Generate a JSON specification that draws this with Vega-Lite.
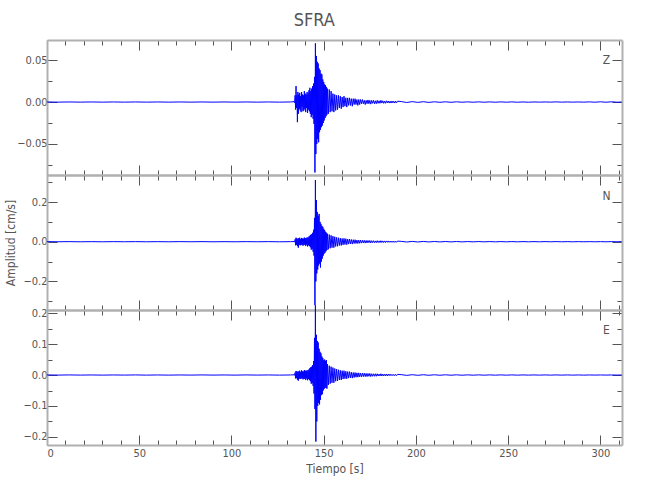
{
"$schema":"https://vega.github.io/schema/vega-lite/v6.json",
"padding":{"left":4,"top":11,"right":5,"bottom":5},
"title":{"text":"SFRA","font":"DejaVu Sans Condensed","fontSize":18,"fontWeight":"normal","color":"#555","offset":10,"anchor":"middle"},
"config":{"view":{"stroke":null},"axis":{"grid":false,"domainColor":"#b0b0b0","domainWidth":2,"tickColor":"#555","tickWidth":1,"labelColor":"#555","labelFont":"DejaVu Sans Condensed","labelFontSize":11,"titleFont":"DejaVu Sans Condensed","titleFontSize":12,"titleFontWeight":"normal","titleColor":"#555"}},
"spacing":0,
"bounds":"flush",
"data":{"values":[
{"t":0,"z":0.0001,"n":0.0004,"e":0.0003},{"t":6,"z":-0.0001,"n":-0.0003,"e":-0.0002},{"t":12,"z":0.0001,"n":0.0004,"e":0.0003},{"t":18,"z":-0.0001,"n":-0.0004,"e":-0.0002},{"t":24,"z":0.0001,"n":0.0003,"e":0.0002},{"t":30,"z":-0.0001,"n":-0.0004,"e":-0.0003},{"t":36,"z":0.0001,"n":0.0004,"e":0.0002},{"t":42,"z":-0.0001,"n":-0.0003,"e":-0.0002},{"t":48,"z":0.0001,"n":0.0004,"e":0.0003},{"t":54,"z":-0.0001,"n":-0.0004,"e":-0.0003},{"t":60,"z":0.0001,"n":0.0003,"e":0.0002},{"t":66,"z":-0.0001,"n":-0.0004,"e":-0.0003},{"t":72,"z":0.0001,"n":0.0004,"e":0.0002},{"t":78,"z":-0.0001,"n":-0.0003,"e":-0.0002},{"t":84,"z":0.0001,"n":0.0004,"e":0.0003},{"t":90,"z":-0.0001,"n":-0.0004,"e":-0.0002},{"t":96,"z":0.0001,"n":0.0003,"e":0.0002},{"t":102,"z":-0.0001,"n":-0.0004,"e":-0.0003},{"t":108,"z":0.0001,"n":0.0004,"e":0.0003},{"t":114,"z":-0.0001,"n":-0.0003,"e":-0.0002},{"t":120,"z":0.0001,"n":0.0004,"e":0.0002},{"t":126,"z":-0.0001,"n":-0.0004,"e":-0.0003},{"t":132,"z":0.0001,"n":0.0003,"e":0.0002},
{"t":134,"z":0.0005,"n":0.001,"e":0.0008},{"t":134.25,"z":-0.0008,"n":-0.002,"e":-0.001},{"t":134.5,"z":0.008,"n":0.012,"e":0.008},{"t":134.75,"z":-0.009,"n":-0.018,"e":-0.011},
{"t":135,"z":0.019,"n":0.02,"e":0.013},{"t":135.25,"z":-0.007,"n":-0.015,"e":-0.01},{"t":135.5,"z":0.008,"n":0.017,"e":0.012},{"t":135.75,"z":-0.024,"n":-0.022,"e":-0.015},
{"t":136,"z":0.012,"n":0.014,"e":0.01},{"t":136.25,"z":-0.014,"n":-0.03,"e":-0.018},{"t":136.5,"z":0.009,"n":0.018,"e":0.012},{"t":136.75,"z":-0.008,"n":-0.016,"e":-0.011},
{"t":137,"z":0.011,"n":0.02,"e":0.014},{"t":137.25,"z":-0.01,"n":-0.018,"e":-0.013},{"t":137.5,"z":0.007,"n":0.013,"e":0.01},{"t":137.75,"z":-0.012,"n":-0.017,"e":-0.012},
{"t":138,"z":0.012,"n":0.019,"e":0.015},{"t":138.25,"z":-0.006,"n":-0.014,"e":-0.01},{"t":138.5,"z":0.009,"n":0.016,"e":0.012},{"t":138.75,"z":-0.011,"n":-0.02,"e":-0.014},
{"t":139,"z":0.008,"n":0.015,"e":0.011},{"t":139.25,"z":-0.01,"n":-0.017,"e":-0.013},{"t":139.5,"z":0.013,"n":0.021,"e":0.016},{"t":139.75,"z":-0.008,"n":-0.015,"e":-0.012},
{"t":140,"z":0.01,"n":0.018,"e":0.014},{"t":140.25,"z":-0.012,"n":-0.022,"e":-0.016},{"t":140.5,"z":0.009,"n":0.017,"e":0.013},{"t":140.75,"z":-0.007,"n":-0.014,"e":-0.011},
{"t":141,"z":0.012,"n":0.022,"e":0.016},{"t":141.25,"z":-0.013,"n":-0.024,"e":-0.017},{"t":141.5,"z":0.01,"n":0.019,"e":0.014},{"t":141.75,"z":-0.009,"n":-0.018,"e":-0.013},
{"t":142,"z":0.014,"n":0.026,"e":0.018},{"t":142.25,"z":-0.011,"n":-0.022,"e":-0.016},{"t":142.5,"z":0.017,"n":0.03,"e":0.022},{"t":142.75,"z":-0.014,"n":-0.028,"e":-0.02},
{"t":143,"z":0.013,"n":0.035,"e":0.025},{"t":143.25,"z":-0.018,"n":-0.04,"e":-0.028},{"t":143.5,"z":0.016,"n":0.038,"e":0.027},{"t":143.75,"z":-0.015,"n":-0.036,"e":-0.026},
{"t":144,"z":0.019,"n":0.045,"e":0.032},{"t":144.25,"z":-0.02,"n":-0.05,"e":-0.035},{"t":144.5,"z":0.022,"n":0.06,"e":0.045},{"t":144.75,"z":-0.026,"n":-0.07,"e":-0.06},
{"t":145,"z":0.03,"n":0.12,"e":0.12},{"t":145.25,"z":-0.084,"n":-0.32,"e":-0.11},{"t":145.5,"z":0.07,"n":0.31,"e":0.225},{"t":145.75,"z":-0.062,"n":-0.2,"e":-0.215},
{"t":146,"z":0.055,"n":0.21,"e":0.13},{"t":146.25,"z":-0.05,"n":-0.16,"e":-0.15},{"t":146.5,"z":0.048,"n":0.15,"e":0.11},{"t":146.75,"z":-0.044,"n":-0.14,"e":-0.1},
{"t":147,"z":0.046,"n":0.13,"e":0.105},{"t":147.25,"z":-0.048,"n":-0.12,"e":-0.09},{"t":147.5,"z":0.04,"n":0.14,"e":0.085},{"t":147.75,"z":-0.036,"n":-0.11,"e":-0.095},
{"t":148,"z":0.038,"n":0.1,"e":0.075},{"t":148.25,"z":-0.033,"n":-0.13,"e":-0.08},{"t":148.5,"z":0.034,"n":0.09,"e":0.07},{"t":148.75,"z":-0.03,"n":-0.1,"e":-0.065},
{"t":149,"z":0.033,"n":0.08,"e":0.06},{"t":149.25,"z":-0.028,"n":-0.085,"e":-0.062},{"t":149.5,"z":0.027,"n":0.075,"e":0.055},{"t":149.75,"z":-0.025,"n":-0.07,"e":-0.05},
{"t":150,"z":0.024,"n":0.065,"e":0.048},{"t":150.25,"z":-0.022,"n":-0.06,"e":-0.045},{"t":150.5,"z":0.021,"n":0.058,"e":0.05},{"t":150.75,"z":-0.019,"n":-0.055,"e":-0.042},
{"t":151,"z":0.02,"n":0.05,"e":0.046},{"t":151.25,"z":-0.017,"n":-0.048,"e":-0.04},{"t":151.5,"z":0.018,"n":0.045,"e":0.048},{"t":151.75,"z":-0.015,"n":-0.042,"e":-0.044},
{"t":152,"z":0.016,"n":0.04,"e":0.035},
{"t":152.5,"z":-0.014,"n":-0.038,"e":-0.032},{"t":153,"z":0.015,"n":0.036,"e":0.03},{"t":153.5,"z":-0.012,"n":-0.033,"e":-0.028},{"t":154,"z":0.013,"n":0.032,"e":0.027},
{"t":154.5,"z":-0.011,"n":-0.03,"e":-0.025},{"t":155,"z":0.01,"n":0.028,"e":0.024},{"t":155.5,"z":-0.012,"n":-0.03,"e":-0.025},{"t":156,"z":0.009,"n":0.025,"e":0.021},
{"t":156.5,"z":-0.01,"n":-0.024,"e":-0.02},{"t":157,"z":0.008,"n":0.022,"e":0.019},{"t":157.5,"z":-0.009,"n":-0.023,"e":-0.019},{"t":158,"z":0.008,"n":0.02,"e":0.017},
{"t":158.5,"z":-0.007,"n":-0.019,"e":-0.016},{"t":159,"z":0.007,"n":0.018,"e":0.015},{"t":159.5,"z":-0.008,"n":-0.019,"e":-0.016},{"t":160,"z":0.006,"n":0.016,"e":0.014},
{"t":160.5,"z":-0.006,"n":-0.016,"e":-0.013},{"t":161,"z":0.007,"n":0.017,"e":0.014},{"t":161.5,"z":-0.005,"n":-0.014,"e":-0.012},{"t":162,"z":0.005,"n":0.015,"e":0.012},
{"t":162.5,"z":-0.006,"n":-0.015,"e":-0.012},{"t":163,"z":0.005,"n":0.013,"e":0.011},{"t":163.5,"z":-0.004,"n":-0.012,"e":-0.01},{"t":164,"z":0.005,"n":0.013,"e":0.011},
{"t":164.5,"z":-0.004,"n":-0.011,"e":-0.009},{"t":165,"z":0.004,"n":0.011,"e":0.009},{"t":165.5,"z":-0.005,"n":-0.012,"e":-0.01},{"t":166,"z":0.004,"n":0.01,"e":0.008},
{"t":166.5,"z":-0.003,"n":-0.009,"e":-0.008},{"t":167,"z":0.004,"n":0.01,"e":0.008},{"t":167.5,"z":-0.003,"n":-0.009,"e":-0.007},{"t":168,"z":0.003,"n":0.008,"e":0.007},
{"t":168.5,"z":-0.004,"n":-0.009,"e":-0.007},{"t":169,"z":0.003,"n":0.008,"e":0.007},{"t":169.5,"z":-0.003,"n":-0.008,"e":-0.006},{"t":170,"z":0.003,"n":0.008,"e":0.006},
{"t":170.5,"z":-0.002,"n":-0.007,"e":-0.006},{"t":171,"z":0.003,"n":0.007,"e":0.006},{"t":171.5,"z":-0.002,"n":-0.006,"e":-0.005},{"t":172,"z":0.002,"n":0.007,"e":0.006},
{"t":172.5,"z":-0.003,"n":-0.007,"e":-0.005},{"t":173,"z":0.002,"n":0.006,"e":0.005},{"t":173.5,"z":-0.002,"n":-0.006,"e":-0.005},{"t":174,"z":0.0025,"n":0.006,"e":0.005},
{"t":174.5,"z":-0.002,"n":-0.005,"e":-0.004},{"t":175,"z":0.002,"n":0.006,"e":0.005},{"t":175.5,"z":-0.0025,"n":-0.006,"e":-0.005},{"t":176,"z":0.002,"n":0.005,"e":0.004},
{"t":176.5,"z":-0.0015,"n":-0.005,"e":-0.004},{"t":177,"z":0.002,"n":0.005,"e":0.004},{"t":177.5,"z":-0.002,"n":-0.005,"e":-0.004},{"t":178,"z":0.0015,"n":0.004,"e":0.004},
{"t":178.5,"z":-0.002,"n":-0.005,"e":-0.004},{"t":179,"z":0.002,"n":0.005,"e":0.004},{"t":179.5,"z":-0.0015,"n":-0.004,"e":-0.003},{"t":180,"z":0.0015,"n":0.004,"e":0.003},
{"t":180.5,"z":-0.0015,"n":-0.004,"e":-0.003},{"t":181,"z":0.002,"n":0.005,"e":0.004},{"t":181.5,"z":-0.0012,"n":-0.004,"e":-0.003},{"t":182,"z":0.0015,"n":0.004,"e":0.003},
{"t":182.5,"z":-0.0015,"n":-0.004,"e":-0.003},{"t":183,"z":0.0012,"n":0.004,"e":0.003},{"t":183.5,"z":-0.0015,"n":-0.004,"e":-0.003},{"t":184,"z":0.0015,"n":0.004,"e":0.003},
{"t":184.5,"z":-0.001,"n":-0.003,"e":-0.003},{"t":185,"z":0.0012,"n":0.004,"e":0.003},{"t":185.5,"z":-0.0012,"n":-0.003,"e":-0.002},{"t":186,"z":0.001,"n":0.003,"e":0.003},
{"t":186.5,"z":-0.0012,"n":-0.003,"e":-0.002},{"t":187,"z":0.0012,"n":0.003,"e":0.002},{"t":187.5,"z":-0.001,"n":-0.003,"e":-0.002},{"t":188,"z":0.001,"n":0.003,"e":0.002},
{"t":188.5,"z":-0.0012,"n":-0.003,"e":-0.002},{"t":189,"z":0.001,"n":0.003,"e":0.002},{"t":189.5,"z":-0.001,"n":-0.003,"e":-0.002},{"t":190,"z":0.001,"n":0.003,"e":0.002},
{"t":192,"z":0.0006,"n":0.0018,"e":0.0012},{"t":195,"z":-0.0005,"n":-0.0016,"e":-0.0011},{"t":198,"z":0.0005,"n":0.0015,"e":0.001},{"t":201,"z":-0.0004,"n":-0.0014,"e":-0.0009},
{"t":204,"z":0.0004,"n":0.0013,"e":0.0009},{"t":207,"z":-0.0004,"n":-0.0012,"e":-0.0008},{"t":210,"z":0.0003,"n":0.0011,"e":0.0008},{"t":213,"z":-0.0003,"n":-0.0011,"e":-0.0007},
{"t":216,"z":0.0003,"n":0.001,"e":0.0007},{"t":219,"z":-0.0003,"n":-0.001,"e":-0.0006},{"t":222,"z":0.0003,"n":0.0009,"e":0.0006},{"t":225,"z":-0.0002,"n":-0.0009,"e":-0.0006},
{"t":228,"z":0.0002,"n":0.0008,"e":0.0005},{"t":231,"z":-0.0002,"n":-0.0008,"e":-0.0005},{"t":234,"z":0.0002,"n":0.0008,"e":0.0005},{"t":237,"z":-0.0002,"n":-0.0007,"e":-0.0005},
{"t":240,"z":0.0002,"n":0.0007,"e":0.0004},{"t":243,"z":-0.0002,"n":-0.0007,"e":-0.0004},{"t":246,"z":0.0002,"n":0.0006,"e":0.0004},{"t":249,"z":-0.0002,"n":-0.0006,"e":-0.0004},
{"t":252,"z":0.0002,"n":0.0006,"e":0.0004},{"t":255,"z":-0.0002,"n":-0.0006,"e":-0.0004},{"t":258,"z":0.0001,"n":0.0005,"e":0.0003},{"t":261,"z":-0.0002,"n":-0.0005,"e":-0.0003},
{"t":264,"z":0.0001,"n":0.0005,"e":0.0003},{"t":267,"z":-0.0001,"n":-0.0005,"e":-0.0003},{"t":270,"z":0.0001,"n":0.0005,"e":0.0003},{"t":273,"z":-0.0001,"n":-0.0004,"e":-0.0003},
{"t":276,"z":0.0002,"n":0.0005,"e":0.0003},{"t":279,"z":-0.0001,"n":-0.0004,"e":-0.0003},{"t":282,"z":0.0001,"n":0.0004,"e":0.0003},{"t":285,"z":-0.0001,"n":-0.0004,"e":-0.0003},
{"t":288,"z":0.0001,"n":0.0004,"e":0.0002},{"t":291,"z":-0.0001,"n":-0.0004,"e":-0.0003},{"t":294,"z":0.0002,"n":0.0004,"e":0.0002},{"t":297,"z":-0.0002,"n":-0.0004,"e":-0.0002},
{"t":300,"z":0.0003,"n":0.0004,"e":0.0002},{"t":303,"z":-0.0002,"n":-0.0004,"e":-0.0002},{"t":306,"z":0.0003,"n":0.0004,"e":0.0002},{"t":309,"z":-0.0002,"n":-0.0004,"e":-0.0002},
{"t":311.5,"z":0.0001,"n":0.0003,"e":0.0002}
]},
"vconcat":[
{"width":575,"height":135,
 "layer":[
  {"mark":{"type":"line","color":"#0000ff","strokeWidth":1},
   "encoding":{
    "x":{"field":"t","type":"quantitative","scale":{"domain":[0,311.7],"nice":false,"zero":false},
      "axis":{"orient":"bottom","title":null,"labels":false,"values":[0,10,20,30,40,50,60,70,80,90,100,110,120,130,140,150,160,170,180,190,200,210,220,230,240,250,260,270,280,290,300,310],"tickSize":{"condition":{"test":"datum.value % 50 === 0","value":-10},"value":-5}}},
    "y":{"field":"z","type":"quantitative","scale":{"domain":[-0.087,0.074],"nice":false,"zero":false},
      "axis":{"orient":"left","title":null,"format":".2f","labelPadding":10,"values":[-0.075,-0.05,-0.025,0,0.025,0.05],"labelExpr":"abs(round(datum.value*1000)) % 50 === 0 ? datum.label : ''","tickSize":{"condition":{"test":"abs(round(datum.value*1000)) % 50 === 0","value":-10},"value":-5}}}
   }},
  {"data":{"values":[{"t":303.3,"z":0.05,"lab":"Z"}]},
   "mark":{"type":"text","color":"#555","fontSize":12,"font":"DejaVu Sans Condensed"},
   "encoding":{
    "x":{"field":"t","type":"quantitative","scale":{"domain":[0,311.7],"nice":false,"zero":false},
      "axis":{"orient":"top","title":null,"labels":false,"values":[0,10,20,30,40,50,60,70,80,90,100,110,120,130,140,150,160,170,180,190,200,210,220,230,240,250,260,270,280,290,300,310],"tickSize":{"condition":{"test":"datum.value % 50 === 0","value":-10},"value":-5}}},
    "y":{"field":"z","type":"quantitative","scale":{"domain":[-0.087,0.074],"nice":false,"zero":false},
      "axis":{"orient":"right","title":null,"labels":false,"values":[-0.075,-0.05,-0.025,0,0.025,0.05],"tickSize":{"condition":{"test":"abs(round(datum.value*1000)) % 50 === 0","value":-10},"value":-5}}},
    "text":{"field":"lab"}
   }}
 ],
 "resolve":{"axis":{"x":"independent","y":"independent"}}
},
{"width":575,"height":135,
 "layer":[
  {"mark":{"type":"line","color":"#0000ff","strokeWidth":1},
   "encoding":{
    "x":{"field":"t","type":"quantitative","scale":{"domain":[0,311.7],"nice":false,"zero":false},
      "axis":{"orient":"bottom","title":null,"labels":false,"values":[0,10,20,30,40,50,60,70,80,90,100,110,120,130,140,150,160,170,180,190,200,210,220,230,240,250,260,270,280,290,300,310],"tickSize":{"condition":{"test":"datum.value % 50 === 0","value":-10},"value":-5}}},
    "y":{"field":"n","type":"quantitative","scale":{"domain":[-0.344,0.336],"nice":false,"zero":false},
      "axis":{"orient":"left","title":"Amplitud [cm/s]","titlePadding":5,"format":".1f","labelPadding":10,"values":[-0.3,-0.2,-0.1,0,0.1,0.2,0.3],"labelExpr":"abs(round(datum.value*10)) % 2 === 0 ? datum.label : ''","tickSize":{"condition":{"test":"abs(round(datum.value*10)) % 2 === 0","value":-10},"value":-5}}}
   }},
  {"data":{"values":[{"t":303.3,"n":0.23,"lab":"N"}]},
   "mark":{"type":"text","color":"#555","fontSize":12,"font":"DejaVu Sans Condensed"},
   "encoding":{
    "x":{"field":"t","type":"quantitative","scale":{"domain":[0,311.7],"nice":false,"zero":false},
      "axis":{"orient":"top","title":null,"labels":false,"values":[0,10,20,30,40,50,60,70,80,90,100,110,120,130,140,150,160,170,180,190,200,210,220,230,240,250,260,270,280,290,300,310],"tickSize":{"condition":{"test":"datum.value % 50 === 0","value":-10},"value":-5}}},
    "y":{"field":"n","type":"quantitative","scale":{"domain":[-0.344,0.336],"nice":false,"zero":false},
      "axis":{"orient":"right","title":null,"labels":false,"values":[-0.3,-0.2,-0.1,0,0.1,0.2,0.3],"tickSize":{"condition":{"test":"abs(round(datum.value*10)) % 2 === 0","value":-10},"value":-5}}},
    "text":{"field":"lab"}
   }}
 ],
 "resolve":{"axis":{"x":"independent","y":"independent"}}
},
{"width":575,"height":135,
 "layer":[
  {"mark":{"type":"line","color":"#0000ff","strokeWidth":1},
   "encoding":{
    "x":{"field":"t","type":"quantitative","scale":{"domain":[0,311.7],"nice":false,"zero":false},
      "axis":{"orient":"bottom","title":"Tiempo [s]","titlePadding":5,"labelPadding":12,"values":[0,10,20,30,40,50,60,70,80,90,100,110,120,130,140,150,160,170,180,190,200,210,220,230,240,250,260,270,280,290,300,310],"labelExpr":"datum.value % 50 === 0 ? datum.label : ''","tickSize":{"condition":{"test":"datum.value % 50 === 0","value":-10},"value":-5}}},
    "y":{"field":"e","type":"quantitative","scale":{"domain":[-0.226,0.21],"nice":false,"zero":false},
      "axis":{"orient":"left","title":null,"format":".1f","labelPadding":10,"values":[-0.2,-0.15,-0.1,-0.05,0,0.05,0.1,0.15,0.2],"labelExpr":"abs(round(datum.value*100)) % 10 === 0 ? datum.label : ''","tickSize":{"condition":{"test":"abs(round(datum.value*100)) % 10 === 0","value":-10},"value":-5}}}
   }},
  {"data":{"values":[{"t":303.3,"e":0.145,"lab":"E"}]},
   "mark":{"type":"text","color":"#555","fontSize":12,"font":"DejaVu Sans Condensed"},
   "encoding":{
    "x":{"field":"t","type":"quantitative","scale":{"domain":[0,311.7],"nice":false,"zero":false},
      "axis":{"orient":"top","title":null,"labels":false,"values":[0,10,20,30,40,50,60,70,80,90,100,110,120,130,140,150,160,170,180,190,200,210,220,230,240,250,260,270,280,290,300,310],"tickSize":{"condition":{"test":"datum.value % 50 === 0","value":-10},"value":-5}}},
    "y":{"field":"e","type":"quantitative","scale":{"domain":[-0.226,0.21],"nice":false,"zero":false},
      "axis":{"orient":"right","title":null,"labels":false,"values":[-0.2,-0.15,-0.1,-0.05,0,0.05,0.1,0.15,0.2],"tickSize":{"condition":{"test":"abs(round(datum.value*100)) % 10 === 0","value":-10},"value":-5}}},
    "text":{"field":"lab"}
   }}
 ],
 "resolve":{"axis":{"x":"independent","y":"independent"}}
}
]
}
